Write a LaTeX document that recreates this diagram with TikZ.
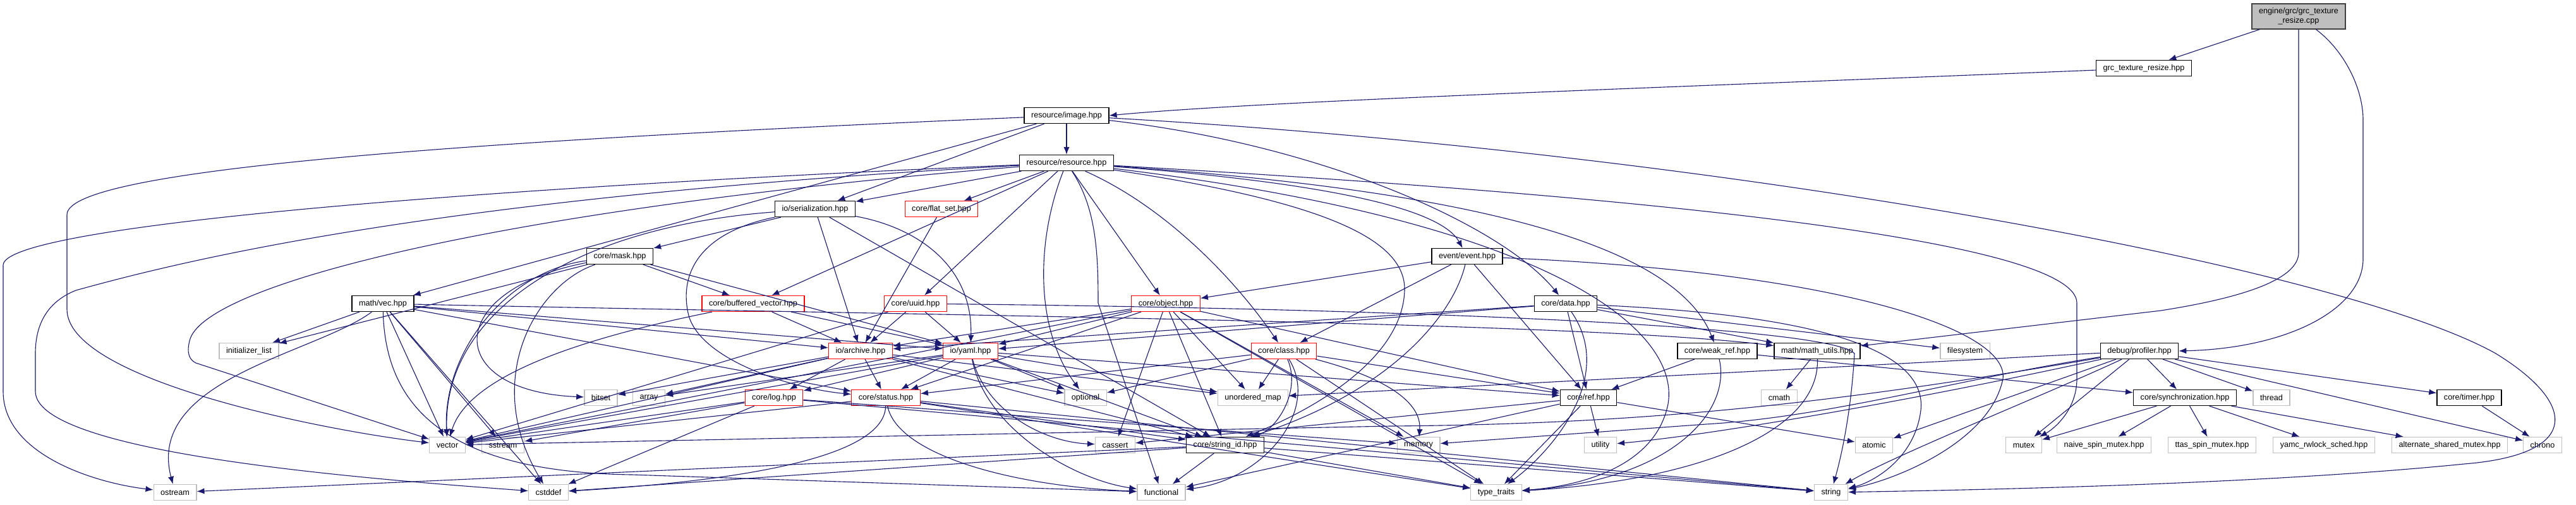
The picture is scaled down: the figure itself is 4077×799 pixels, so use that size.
\documentclass[tikz,border=0pt]{standalone}
\usepackage{fontspec}
\setmainfont{Liberation Sans}
\usetikzlibrary{arrows.meta}
\definecolor{edgec}{HTML}{191970}
\definecolor{sysb}{HTML}{BFBFBF}
\definecolor{hdrb}{HTML}{404040}
\begin{document}
\begin{tikzpicture}[x=0.03cm,y=-0.03cm,
  base/.style={rectangle, fill=white, line width=1.1pt, minimum height=0.75cm, inner xsep=0.33cm, inner ysep=0pt, font=\fontsize{10.8}{12.5}\selectfont},
  hdr/.style={base, draw=black},
  red/.style={base, draw=red},
  sys/.style={base, draw=sysb},
  rootn/.style={base, draw=hdrb, fill=sysb, align=center, minimum height=1.2cm},
  dep/.style={draw=edgec, line width=0.95pt, -{Latex[length=0.36cm,width=0.28cm]}}]
\useasboundingbox (0,0) rectangle (4077,799);
% nodes
\node[rootn] (root) at (3638,26) {engine/grc/grc\_texture\\\_resize.cpp};
\node[hdr] (gth) at (3393,108) {grc\_texture\_resize.hpp};
\node[hdr] (image) at (1688,183) {resource/image.hpp};
\node[hdr] (resource) at (1688,258) {resource/resource.hpp};
\node[hdr] (serial) at (1290,331) {io/serialization.hpp};
\node[red] (flatset) at (1490,331) {core/flat\_set.hpp};
\node[hdr] (mask) at (981,406) {core/mask.hpp};
\node[hdr] (event) at (2322,406) {event/event.hpp};
\node[hdr] (vec) at (606,481) {math/vec.hpp};
\node[red] (bufvec) at (1192,481) {core/buffered\_vector.hpp};
\node[red] (uuid) at (1449,481) {core/uuid.hpp};
\node[red] (object) at (1845,481) {core/object.hpp};
\node[hdr] (data) at (2478,481) {core/data.hpp};
\node[sys] (initlist) at (394,556) {initializer\_list};
\node[red] (archive) at (1362,556) {io/archive.hpp};
\node[red] (yaml) at (1536,556) {io/yaml.hpp};
\node[red] (class) at (2032,556) {core/class.hpp};
\node[hdr] (weakref) at (2718,556) {core/weak\_ref.hpp};
\node[hdr] (mathutils) at (2876,556) {math/math\_utils.hpp};
\node[sys] (filesystem) at (3110,556) {filesystem};
\node[hdr] (profiler) at (3386,556) {debug/profiler.hpp};
\node[sys] (bitset) at (951,630) {bitset};
\node[sys] (array) at (1027,630) {array};
\node[red] (log) at (1225,630) {core/log.hpp};
\node[red] (status) at (1402,630) {core/status.hpp};
\node[sys] (optional) at (1718,630) {optional};
\node[sys] (umap) at (1983,630) {unordered\_map};
\node[hdr] (ref) at (2514,630) {core/ref.hpp};
\node[sys] (cmath) at (2816,630) {cmath};
\node[hdr] (sync) at (3458,630) {core/synchronization.hpp};
\node[sys] (thread) at (3595,630) {thread};
\node[hdr] (timer) at (3908,630) {core/timer.hpp};
\node[sys] (vector) at (708,705) {vector};
\node[sys] (sstream) at (796,705) {sstream};
\node[sys] (cassert) at (1765,705) {cassert};
\node[hdr] (stringid) at (1939,705) {core/string\_id.hpp};
\node[sys] (memory) at (2245,705) {memory};
\node[sys] (utility) at (2533,705) {utility};
\node[sys] (atomic) at (2966,705) {atomic};
\node[sys] (mutex) at (3203,705) {mutex};
\node[sys] (naive) at (3330,705) {naive\_spin\_mutex.hpp};
\node[sys] (ttas) at (3501,705) {ttas\_spin\_mutex.hpp};
\node[sys] (yamc) at (3678,705) {yamc\_rwlock\_sched.hpp};
\node[sys] (altern) at (3877,705) {alternate\_shared\_mutex.hpp};
\node[sys] (chrono) at (4024,705) {chrono};
\node[sys] (ostream) at (277,780) {ostream};
\node[sys] (cstddef) at (868,780) {cstddef};
\node[sys] (functional) at (1838,780) {functional};
\node[sys] (typetraits) at (2368,780) {type\_traits};
\node[sys] (string) at (2898,780) {string};
% root
\draw[dep] (root) -- (gth);
\draw[dep] (root.south) -- (3638,400) .. controls (3638,440) and (3560,470) .. (3420,492) -- (mathutils);
\draw[dep] (root) .. controls (3710,80) and (3740,140) .. (3740,190) -- (3740,410) .. controls (3740,490) and (3620,552) .. (profiler.east);
\draw[dep] (gth) .. controls (2600,140) and (2000,160) .. (image.east);
% image
\draw[dep] (image) -- (resource);
\draw[dep] (image) -- (serial);
\draw[dep] (image) -- (vec);
\draw[dep] (image) .. controls (2100,230) and (2380,360) .. (data);
\draw[dep] (image) .. controls (700,225) and (106,270) .. (106,340) -- (106,490) .. controls (106,600) and (500,680) .. (vector);
\draw[dep] (image) .. controls (2700,240) and (3700,420) .. (3950,560) .. controls (4080,640) and (4085,720) .. (3900,735) .. controls (3600,765) and (3200,775) .. (string);
% resource
\draw[dep] (resource) -- (serial);
\draw[dep] (resource) -- (flatset);
\draw[dep] (resource) -- (bufvec);
\draw[dep] (resource) -- (uuid);
\draw[dep] (resource) -- (object);
\draw[dep] (resource) .. controls (1850,330) and (1960,450) .. (class);
\draw[dep] (resource) .. controls (2100,290) and (2280,330) .. (event);
\draw[dep] (resource) .. controls (2300,300) and (2650,380) .. (weakref);
\draw[dep] (resource) .. controls (1640,380) and (1637,520) .. (optional);
\draw[dep] (resource) .. controls (1735,330) and (1738,400) .. (1738,480) -- (functional);
\draw[dep] (resource) .. controls (2100,320) and (2225,380) .. (2223,460) .. controls (2220,560) and (2100,640) .. (stringid);
\draw[dep] (resource) .. controls (700,300) and (5,360) .. (5,420) -- (5,620) .. controls (5,720) and (150,765) .. (ostream);
\draw[dep] (resource) .. controls (700,312) and (300,410) .. (120,460) .. controls (70,480) and (56,520) .. (56,560) -- (56,620) .. controls (56,720) and (600,760) .. (cstddef);
\draw[dep] (resource) .. controls (800,330) and (320,450) .. (300,540) .. controls (295,560) and (300,570) .. (310,575) -- (vector);
\draw[dep] (resource) .. controls (2600,310) and (3287,380) .. (3287,480) -- (3287,600) .. controls (3287,650) and (3250,680) .. (mutex);
\draw[dep] (resource) .. controls (2450,350) and (2660,520) .. (2640,640) .. controls (2620,740) and (2500,770) .. (typetraits);
% serialization
\draw[dep] (serial) -- (mask);
\draw[dep] (serial) -- (archive);
\draw[dep] (serial) .. controls (1450,360) and (1540,420) .. (yaml);
\draw[dep] (serial) .. controls (1100,370) and (1075,440) .. (1090,500) .. controls (1110,570) and (1250,615) .. (status);
\draw[dep] (serial) .. controls (900,360) and (700,500) .. (vector);
\draw[dep] (serial) -- (stringid);
\draw[dep] (flatset) -- (archive);
% mask
\draw[dep] (mask) -- (bufvec);
\draw[dep] (mask) -- (yaml);
\draw[dep] (mask) -- (initlist);
\draw[dep] (mask) .. controls (800,430) and (700,560) .. (vector);
\draw[dep] (mask) .. controls (850,450) and (760,600) .. (cstddef);
\draw[dep] (mask) .. controls (700,460) and (700,620) .. (bitset);
% vec
\draw[dep] (vec) -- (initlist);
\draw[dep] (vec) .. controls (500,560) and (230,600) .. (ostream);
\draw[dep] (vec) -- (cstddef);
\draw[dep] (vec) -- (vector);
\draw[dep] (vec) -- (sstream);
\draw[dep] (vec) -- (archive);
\draw[dep] (vec) -- (yaml);
\draw[dep] (vec) -- (status);
\draw[dep] (vec) .. controls (1500,500) and (2500,510) .. (mathutils);
\draw[dep] (vec) .. controls (610,640) and (700,748) .. (1000,752) -- (functional);
% buffered vector, uuid
\draw[dep] (bufvec) -- (archive);
\draw[dep] (bufvec) -- (yaml);
\draw[dep] (bufvec) .. controls (900,540) and (740,600) .. (vector);
\draw[dep] (uuid) -- (archive);
\draw[dep] (uuid) -- (yaml);
\draw[dep] (uuid) -- (vector);
\draw[dep] (uuid) .. controls (2300,490) and (2900,520) .. (2935,560) .. controls (2930,650) and (2915,720) .. (string);
% object
\draw[dep] (object) -- (archive);
\draw[dep] (object) -- (yaml);
\draw[dep] (object) -- (status);
\draw[dep] (object) -- (ref);
\draw[dep] (object) -- (stringid);
\draw[dep] (object) -- (umap);
\draw[dep] (object) -- (cassert);
\draw[dep] (object) -- (vector);
\draw[dep] (object) -- (typetraits);
\draw[dep] (object) -- (memory);
% event
\draw[dep] (event) -- (object);
\draw[dep] (event) -- (class);
\draw[dep] (event) .. controls (2300,500) and (2200,620) .. (stringid);
\draw[dep] (event) -- (ref);
\draw[dep] (event) .. controls (2900,430) and (3180,520) .. (3170,600) .. controls (3150,700) and (3000,760) .. (string);
% data
\draw[dep] (data) -- (archive);
\draw[dep] (data) -- (yaml);
\draw[dep] (data) -- (ref);
\draw[dep] (data) -- (mathutils);
\draw[dep] (data) -- (filesystem);
\draw[dep] (data) .. controls (2900,500) and (3050,560) .. (3040,650) .. controls (3030,730) and (2960,765) .. (string);
\draw[dep] (data) .. controls (2560,600) and (2450,720) .. (typetraits);
% class
\draw[dep] (class) -- (umap);
\draw[dep] (class) .. controls (2060,620) and (2020,680) .. (stringid);
\draw[dep] (class) .. controls (2090,650) and (2000,760) .. (functional);
\draw[dep] (class) -- (status);
\draw[dep] (class) -- (ref);
\draw[dep] (class) -- (typetraits);
\draw[dep] (class) .. controls (2200,600) and (2250,640) .. (memory);
\draw[dep] (class) -- (optional);
% archive
\draw[dep] (archive) -- (bitset);
\draw[dep] (archive) -- (array);
\draw[dep] (archive) -- (log);
\draw[dep] (archive) -- (status);
\draw[dep] (archive) -- (vector);
\draw[dep] (archive) -- (optional);
\draw[dep] (archive) -- (umap);
\draw[dep] (archive) -- (stringid);
% yaml
\draw[dep] (yaml) -- (array);
\draw[dep] (yaml) -- (log);
\draw[dep] (yaml) -- (status);
\draw[dep] (yaml) -- (optional);
\draw[dep] (yaml) -- (umap);
\draw[dep] (yaml) -- (stringid);
\draw[dep] (yaml) .. controls (1560,650) and (1650,700) .. (cassert);
\draw[dep] (yaml) -- (vector);
\draw[dep] (yaml) -- (ref);
\draw[dep] (yaml) .. controls (1560,680) and (1700,760) .. (functional);
% log, status
\draw[dep] (log) -- (vector);
\draw[dep] (log) -- (cstddef);
\draw[dep] (log) -- (sstream);
\draw[dep] (log) -- (string);
\draw[dep] (log) -- (memory);
\draw[dep] (status) -- (vector);
\draw[dep] (status) .. controls (1400,720) and (1200,760) .. (cstddef);
\draw[dep] (status) .. controls (1420,720) and (1600,770) .. (functional);
\draw[dep] (status) -- (stringid);
\draw[dep] (status) -- (string);
\draw[dep] (status) -- (typetraits);
% ref, weak_ref, math_utils
\draw[dep] (ref) -- (atomic);
\draw[dep] (ref) -- (cassert);
\draw[dep] (ref) -- (typetraits);
\draw[dep] (ref) -- (utility);
\draw[dep] (ref) -- (functional);
\draw[dep] (weakref) -- (ref);
\draw[dep] (weakref) .. controls (2740,650) and (2650,760) .. (typetraits);
\draw[dep] (weakref) -- (sync);
\draw[dep] (mathutils) -- (cmath);
\draw[dep] (mathutils) .. controls (2880,680) and (2700,760) .. (typetraits);
% profiler
\draw[dep] (profiler) -- (sync);
\draw[dep] (profiler) -- (thread);
\draw[dep] (profiler) -- (timer);
\draw[dep] (profiler) -- (chrono);
\draw[dep] (profiler) -- (mutex);
\draw[dep] (profiler) -- (atomic);
\draw[dep] (profiler) .. controls (3250,620) and (3000,720) .. (string);
\draw[dep] (profiler) -- (umap);
\draw[dep] (profiler) .. controls (2900,640) and (2600,672) .. (2200,675) -- (vector);
\draw[dep] (profiler) .. controls (3100,600) and (2900,660) .. (2700,672) -- (memory);
\draw[dep] (profiler) .. controls (3000,640) and (2700,690) .. (utility);
% sync, timer
\draw[dep] (sync) -- (mutex);
\draw[dep] (sync) -- (naive);
\draw[dep] (sync) -- (ttas);
\draw[dep] (sync) -- (yamc);
\draw[dep] (sync) -- (altern);
\draw[dep] (timer) -- (chrono);
% string_id
\draw[dep] (stringid) -- (functional);
\draw[dep] (stringid) -- (ostream);
\draw[dep] (stringid) -- (cstddef);
\draw[dep] (stringid) -- (string);
\draw[dep] (stringid) -- (typetraits);
\end{tikzpicture}
\end{document}
